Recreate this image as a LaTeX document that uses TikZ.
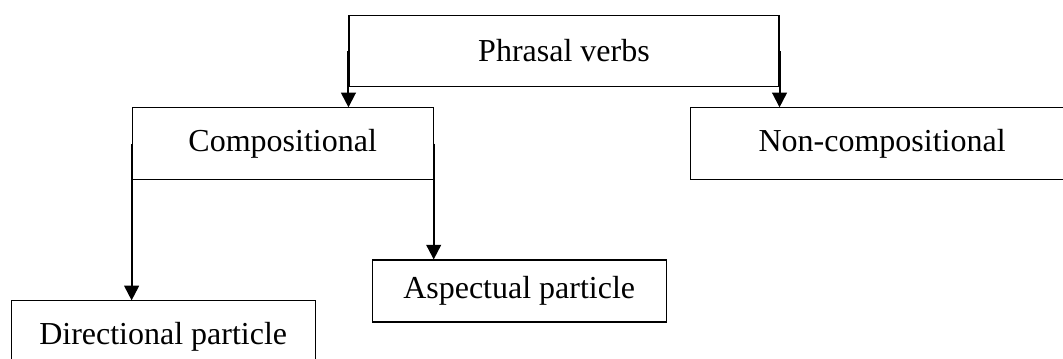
\documentclass[tikz,border=0pt]{standalone}
\usepackage{fontspec}
\setmainfont{Liberation Serif}
\usepackage{tikz}
\usetikzlibrary{shapes, arrows, arrows.meta, positioning, calc}

\begin{document}
\begin{tikzpicture}[node distance=69.4pt, auto, >={Triangle[length=11pt,width=11pt]},
  box/.style={rectangle, draw, line width=0.8pt, inner sep=0pt, minimum height=53.5pt, font=\fontsize{24}{28}\selectfont},
  link/.style={->, line width=1.5pt}]

\useasboundingbox (-423pt,38.25pt) rectangle (374.25pt,-230.25pt);

\node[box, minimum width=322.5pt] (pv) {Phrasal verbs};
\node[box, below of=pv, xshift=-211pt, minimum width=225.75pt] (comp) {Compositional};
\node[box, right of=comp, node distance=449.6pt, minimum width=288pt] (noncomp) {Non-compositional};
\node[box, below of=comp, node distance=110.6pt, xshift=177.4pt, minimum width=220.5pt, minimum height=46.5pt] (asp) {Aspectual particle};
\node[box, below of=comp, node distance=144.8pt, xshift=-89.6pt, minimum width=228pt] (dir) {Directional particle};

\draw[link] (pv.west) -- (pv.west |- comp.north);
\draw[link] (pv.east) -- (pv.east |- noncomp.north);
\draw[link] (comp.west) -- (comp.west |- dir.north);
\draw[link] (comp.east) -- (comp.east |- asp.north);

\end{tikzpicture}
\end{document}
